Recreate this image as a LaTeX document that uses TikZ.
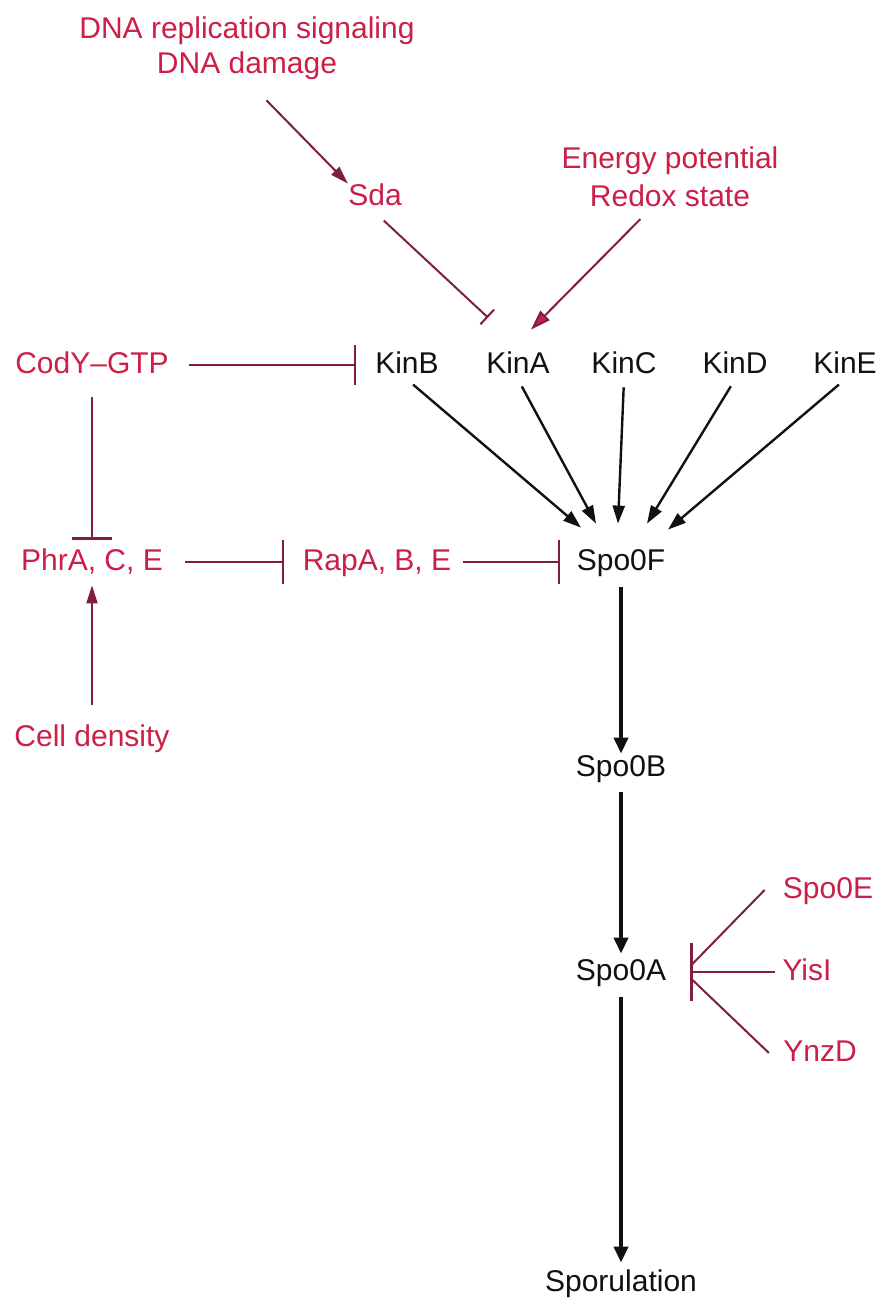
\documentclass[tikz,border=0pt]{standalone}
\usepackage{fontspec}
\setmainfont{Liberation Sans}
\usetikzlibrary{arrows.meta,calc}
\definecolor{spred}{HTML}{CC1F48}
\definecolor{spline}{HTML}{7E1F3C}
\definecolor{spink}{HTML}{111111}

\begin{document}
\begin{tikzpicture}[
  x=0.5pt, y=-0.5pt,
  lbl/.style={font=\fontsize{15}{17.5}\selectfont, inner sep=0pt,
              text height=11pt, text depth=3pt, align=center},
  sig/.style={lbl, text=spred},
  prot/.style={lbl, text=spink},
  act/.style={-{Triangle[length=9pt,width=6pt]}, spink, line width=1.2pt},
  flow/.style={-{Triangle[length=8pt,width=7pt]}, spink, line width=1.8pt},
  ract/.style={-{Triangle[length=9pt,width=5.5pt]}, spline, line width=1pt},
  inh/.style={-{Bar[width=#1]}, spline, line width=1.2pt},
  inh/.default=20pt,
]
\fill[white] (0,0) rectangle (877,1299);
\useasboundingbox (0,0) rectangle (877,1299);

% signals and regulators
\node[sig] (dna) at (247,66) {DNA replication signaling\\DNA damage};
\node[sig] (sda) at (375,198) {Sda};
\node[sig, font=\fontsize{15}{19}\selectfont] (energy) at (670,199) {Energy potential\\Redox state};
\node[sig] (cody) at (92,365) {CodY–GTP};
\node[sig] (phr) at (92,562) {PhrA, C, E};
\node[sig] (rap) at (377,562) {RapA, B, E};
\node[sig] (cell) at (92,738) {Cell density};

% kinases
\node[prot] (kinB) at (407,365) {KinB};
\node[prot] (kinA) at (518,365) {KinA};
\node[prot] (kinC) at (624,365) {KinC};
\node[prot] (kinD) at (735,365) {KinD};
\node[prot] (kinE) at (845,365) {KinE};

% phosphorelay
\node[prot] (spoF) at (621,562) {Spo0F};
\node[prot] (spoB) at (621,768) {Spo0B};
\node[prot] (spoA) at (621,972) {Spo0A};
\node[prot] (spor) at (621,1283) {Sporulation};

% phosphatases
\node[sig] (spoE) at (828,890) {Spo0E};
\node[sig] (yisI) at (807,972) {YisI};
\node[sig] (ynzD) at (820,1053) {YnzD};

\coordinate (sdaend) at ([xshift=-15pt,yshift=16.5pt]kinA.north);
\coordinate (nrgend) at ([xshift=6.5pt,yshift=10.5pt]kinA.north);
\coordinate (hub) at ([xshift=12pt]spoA.east);

\draw[ract, shorten <=14pt] (dna.south) -- (sda.north west);
\draw[inh=10pt, line width=1pt, shorten <=6pt] (sda.south) -- (sdaend);
\draw[ract, -{Triangle[length=10pt,width=6.5pt,fill=spred]}, shorten <=4pt] ([xshift=-12pt]energy.south) -- (nrgend);

\draw[inh, shorten <=10pt, shorten >=9.5pt] (cody) -- (kinB);
\draw[inh, shorten <=9pt, shorten >=4pt] (cody) -- (phr);
\draw[inh=22pt, shorten <=11pt, shorten >=9pt] (phr) -- (rap);
\draw[inh=22pt, shorten <=5.5pt, shorten >=8pt] (rap) -- (spoF);
\draw[ract, line width=1.2pt, shorten <=9.5pt, shorten >=4.5pt] (cell) -- (phr);

\draw[act, shorten <=4pt] (kinB.south) -- ([xshift=-20pt,yshift=10pt]spoF.north);
\draw[act, shorten <=4pt] (kinA.south) -- ([xshift=-12.5pt,yshift=12pt]spoF.north);
\draw[act, shorten <=4pt] (kinC.south) -- ([xshift=-1.5pt,yshift=12pt]spoF.north);
\draw[act, shorten <=4pt] (kinD.south) -- ([xshift=13pt,yshift=12pt]spoF.north);
\draw[act, shorten <=4pt] (kinE.south) -- ([xshift=23.5pt,yshift=9pt]spoF.north);

\draw[flow, shorten <=5.5pt] (spoF) -- (spoB);
\draw[flow, shorten <=5pt, shorten >=2pt] (spoB) -- (spoA);
\draw[flow, shorten <=5.5pt, shorten >=3pt] (spoA) -- (spor);

\draw[inh=29pt, shorten <=3.5pt] (yisI.west) -- (hub);
\draw[spline, line width=1pt] ([xshift=-9pt]spoE.west) -- ([yshift=3pt]hub);
\draw[spline, line width=1pt] ([xshift=-7pt]ynzD.west) -- ([yshift=-3pt]hub);

\end{tikzpicture}
\end{document}
